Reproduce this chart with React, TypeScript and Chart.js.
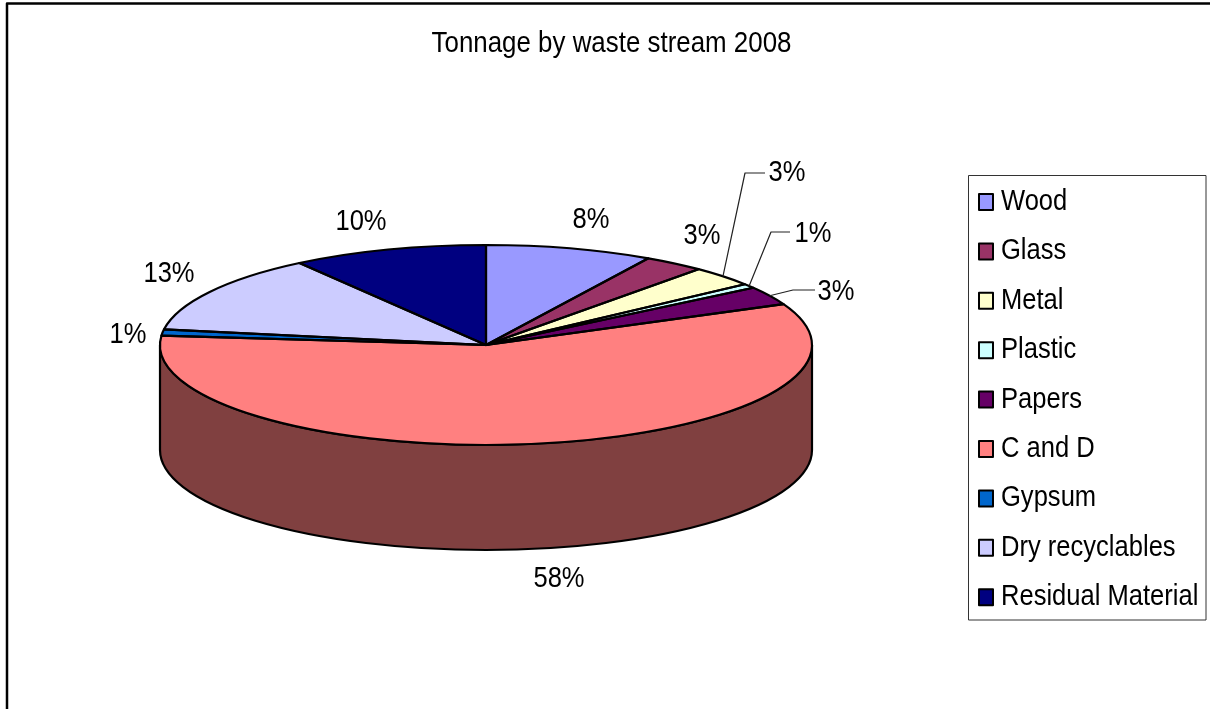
import React, { useEffect, useRef } from "react";
import { Chart, registerables } from "chart.js";

Chart.register(...registerables);

const chartTitle = "Tonnage by waste stream 2008";
const streams = ["Wood", "Glass", "Metal", "Plastic", "Papers", "C and D", "Gypsum", "Dry recyclables", "Residual Material"];
const sharePercent = [8.3, 3.0, 3.3, 0.7, 3.0, 58.2, 1.0, 12.8, 9.7];
const sliceColors = ["#9999FF", "#993366", "#FFFFCC", "#CCFFFF", "#660066", "#FF8080", "#0066CC", "#CCCCFF", "#000080"];

// Where each percentage label sits on the canvas.
const labelSpots = [
  [591, 220], [702, 236], [787, 173], [813, 234], [836, 292],
  [559, 579], [128, 335], [169, 274], [361, 222],
];
// Leader lines: elbow and end of the line that starts on the slice rim.
const leaders: Record<number, number[][]> = {
  2: [[745, 173], [765, 173]],
  3: [[771, 232], [790, 232]],
  4: [[793, 290], [815, 290]],
};

const TILT = 100 / 326; // vertical squash of the disc
const DEPTH = 105; // height of the disc wall
const FONT = '29px "Liberation Sans", Arial, sans-serif';

// Fonts in the chart are slightly condensed.
function squeezedText(ctx: CanvasRenderingContext2D, text: string, x: number, y: number, align: CanvasTextAlign, stretch = 0.881) {
  ctx.save();
  ctx.translate(x, y);
  ctx.scale(stretch, 1);
  ctx.font = FONT;
  ctx.fillStyle = "#000";
  ctx.textAlign = align;
  ctx.textBaseline = "middle";
  ctx.fillText(text, 0, 0);
  ctx.restore();
}

function darken(hex: string) {
  const n = parseInt(hex.slice(1), 16);
  const half = (v: number) => Math.round(v / 2);
  return `rgb(${half((n >> 16) & 255)},${half((n >> 8) & 255)},${half(n & 255)})`;
}

const diskPlugin = {
  id: "disk",
  beforeDatasetsDraw(chart: any) {
    const { ctx } = chart;
    const arcs = chart.getDatasetMeta(0).data;
    // Outer wall: only the part of each slice on the front half of the disc.
    arcs.forEach((arc: any, i: number) => {
      const from = Math.max(arc.startAngle, 0);
      const to = Math.min(arc.endAngle, Math.PI);
      if (to <= from) return;
      const ry = arc.outerRadius * TILT;
      ctx.beginPath();
      ctx.ellipse(arc.x, arc.y, arc.outerRadius, ry, 0, from, to);
      ctx.ellipse(arc.x, arc.y + DEPTH, arc.outerRadius, ry, 0, to, from, true);
      ctx.closePath();
      ctx.fillStyle = darken(sliceColors[i]);
      ctx.fill();
      ctx.strokeStyle = "#000";
      ctx.lineWidth = 2.2;
      ctx.stroke();
    });
    // Squash the slices the library draws next into the disc's top face.
    const cy = arcs[0].y;
    ctx.save();
    ctx.translate(0, cy);
    ctx.scale(1, TILT);
    ctx.translate(0, -cy);
  },
  afterDatasetsDraw(chart: any) {
    const { ctx } = chart;
    ctx.restore();
    chart.getDatasetMeta(0).data.forEach((arc: any) => {
      ctx.beginPath();
      ctx.moveTo(arc.x, arc.y);
      ctx.ellipse(arc.x, arc.y, arc.outerRadius, arc.outerRadius * TILT, 0, arc.startAngle, arc.endAngle);
      ctx.closePath();
      ctx.strokeStyle = "#000";
      ctx.lineWidth = 2.2;
      ctx.lineJoin = "round";
      ctx.stroke();
    });
  },
  afterDraw(chart: any) {
    const { ctx } = chart;
    const arcs = chart.getDatasetMeta(0).data;

    // Chart frame
    ctx.beginPath();
    ctx.moveTo(7, chart.height);
    ctx.lineTo(7, 3.5);
    ctx.lineTo(chart.width, 3.5);
    ctx.strokeStyle = "#000";
    ctx.lineWidth = 2.5;
    ctx.stroke();

    squeezedText(ctx, chartTitle, 611.5, 44, "center", 0.893);

    // Leader lines and percentage labels
    ctx.strokeStyle = "#222";
    ctx.lineWidth = 1.2;
    Object.entries(leaders).forEach(([key, pts]) => {
      const arc = arcs[Number(key)];
      const mid = (arc.startAngle + arc.endAngle) / 2;
      ctx.beginPath();
      ctx.moveTo(arc.x + arc.outerRadius * Math.cos(mid), arc.y + arc.outerRadius * TILT * Math.sin(mid));
      pts.forEach(([x, y]) => ctx.lineTo(x, y));
      ctx.stroke();
    });
    sharePercent.forEach((v, i) => {
      squeezedText(ctx, `${Math.round(v)}%`, labelSpots[i][0], labelSpots[i][1], "center");
    });

    // Legend
    ctx.strokeStyle = "#333";
    ctx.lineWidth = 1;
    ctx.fillStyle = "#fff";
    ctx.fillRect(968.5, 175.5, 237.5, 444.5);
    ctx.strokeRect(968.5, 175.5, 237.5, 444.5);
    chart.data.labels.forEach((name: string, i: number) => {
      const rowY = 202 + i * 49.4;
      ctx.fillStyle = sliceColors[i];
      ctx.fillRect(979, rowY - 8, 14, 16);
      ctx.strokeStyle = "#000";
      ctx.lineWidth = 2;
      ctx.strokeRect(979, rowY - 8, 14, 16);
      squeezedText(ctx, name, 1001, rowY, "left");
    });
  },
};

export default function App() {
  const canvasRef = useRef<HTMLCanvasElement>(null);

  useEffect(() => {
    const chart = new Chart(canvasRef.current!, {
      type: "pie",
      data: {
        labels: streams,
        datasets: [{ data: sharePercent, backgroundColor: sliceColors, borderWidth: 0, clip: false } as any],
      },
      options: {
        animation: false,
        responsive: false,
        devicePixelRatio: 1,
        events: [],
        layout: { padding: { left: 160, right: 398, top: 19, bottom: 38 } },
        plugins: {
          legend: { display: false },
          title: { display: false },
          tooltip: { enabled: false },
        },
      },
      plugins: [diskPlugin],
    });
    return () => chart.destroy();
  }, []);

  return (
    <div style={{ position: "fixed", left: 0, top: 0, width: 1210, height: 709, background: "#fff" }}>
      <canvas ref={canvasRef} width={1210} height={709} style={{ display: "block" }} />
    </div>
  );
}
